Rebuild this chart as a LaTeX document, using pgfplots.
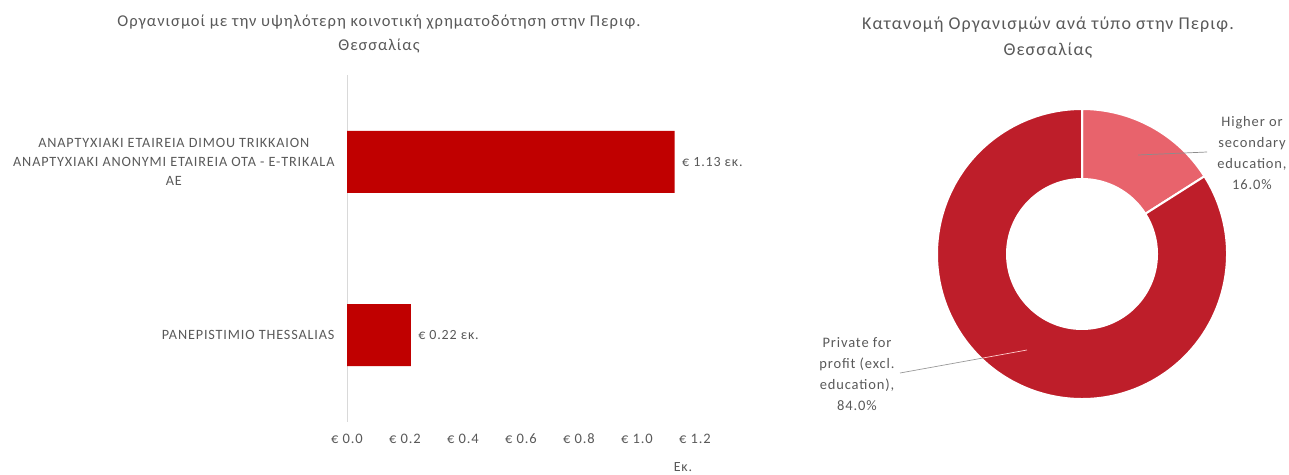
\documentclass[border=0pt]{standalone}
\usepackage{pgfplots}
\pgfplotsset{compat=1.18}
\usepackage{pgfplotstable}
\usepackage{fontspec}
\usetikzlibrary{calc}
\setmainfont{Carlito}[LetterSpace=6]
\definecolor{barred}{HTML}{C00000}
\definecolor{lightred}{HTML}{E8636C}
\definecolor{darkred}{HTML}{BE1E2A}
\definecolor{txt}{HTML}{595959}

\pgfplotstableread{
y v
0 0.22
1 1.13
}\bardata
\pgfplotstableread{
share
16.0
84.0
}\donutdata

\begin{document}
\begin{tikzpicture}[x=1pt,y=1pt]
\useasboundingbox (0,0) rectangle (1289,474);

% ---------- bar chart ----------
\node[txt, align=center, font=\fontsize{16.5}{24}\selectfont] at (379,440) {Οργανισμοί με την υψηλότερη κοινοτική  χρηματοδότηση στην Περιφ.\\Θεσσαλίας};
\begin{axis}[
  at={(347pt,52.5pt)}, anchor=south west,
  scale only axis, width=348pt, height=346pt,
  xbar, bar width=62pt,
  xmin=0, xmax=1.2, ymin=-0.5, ymax=1.5,
  axis x line*=bottom, axis y line*=left,
  x axis line style={draw=none},
  y axis line style={draw=black!15, line width=0.8pt},
  major tick length=0pt,
  /pgf/number format/assume math mode=true,
  xtick={0,0.2,0.4,0.6,0.8,1.0,1.2},
  xticklabels={€ 0.0,€ 0.2,€ 0.4,€ 0.6,€ 0.8,€ 1.0,€ 1.2},
  ytick={0,1},
  yticklabels={{PANEPISTIMIO THESSALIAS},{ANAPTYXIAKI ETAIREIA DIMOU TRIKKAION\\ANAPTYXIAKI ANONYMI ETAIREIA OTA - E-TRIKALA\\AE}},
  xticklabel style={font=\fontsize{14.5}{16}\selectfont, text=txt, yshift=-9pt},
  yticklabel style={font=\fontsize{14.2}{19}\selectfont, text=txt, align=center, xshift=-9pt},
  point meta=x,
  nodes near coords={€ \pgfmathprintnumber[fixed,fixed zerofill,precision=2,assume math mode=true]{\pgfplotspointmeta} εκ.},
  nodes near coords style={font=\fontsize{14}{16}\selectfont, text=txt, anchor=west, xshift=4pt},
  clip=false,
]
\addplot[fill=barred, draw=none] table[x=v, y=y] {\bardata};
\end{axis}
\node[txt, font=\fontsize{14}{16}\selectfont] at (683,7) {Εκ.};

% ---------- donut ----------
\node[txt, align=center, font=\fontsize{18}{26}\selectfont] at (1048,436) {Κατανομή Οργανισμών ανά τύπο στην Περιφ.\\Θεσσαλίας};
\pgfplotstablegetelem{0}{share}\of\donutdata \edef\sA{\pgfplotsretval}
\pgfplotstablegetelem{1}{share}\of\donutdata \edef\sB{\pgfplotsretval}
\pgfmathsetmacro{\aA}{90-3.6*\sA}
\pgfmathsetmacro{\aB}{\aA-3.6*\sB}
\begin{axis}[
  at={(1082pt,220pt)}, anchor=center,
  scale only axis, width=290pt, height=290pt,
  xmin=-1, xmax=1, ymin=-1, ymax=1, hide axis, clip=false,
]
\coordinate (O) at (axis cs:0,0);
\filldraw[fill=lightred, draw=white, line width=2pt]
  ($(O)+(90:145pt)$) arc[start angle=90, end angle=\aA, radius=145pt]
  -- ($(O)+(\aA:75pt)$) arc[start angle=\aA, end angle=90, radius=75pt] -- cycle;
\filldraw[fill=darkred, draw=white, line width=2pt]
  ($(O)+(\aA:145pt)$) arc[start angle=\aA, end angle=\aB, radius=145pt]
  -- ($(O)+(\aB:75pt)$) arc[start angle=\aB, end angle=\aA, radius=75pt] -- cycle;
\end{axis}
\draw[black!45, line width=0.7pt] (1138,319) -- (1207,322);
\draw[black!40, line width=0.7pt] (900,101) -- (983,116);
\draw[red!20!white, line width=0.7pt] (983,116) -- (1027,124);
\node[txt, align=center, font=\fontsize{14.5}{21}\selectfont] at (1252,321) {Higher or\\secondary\\education,\\16.0\%};
\node[txt, align=center, font=\fontsize{14.5}{21}\selectfont] at (857,100) {Private for\\profit (excl.\\education),\\84.0\%};
\end{tikzpicture}
\end{document}
